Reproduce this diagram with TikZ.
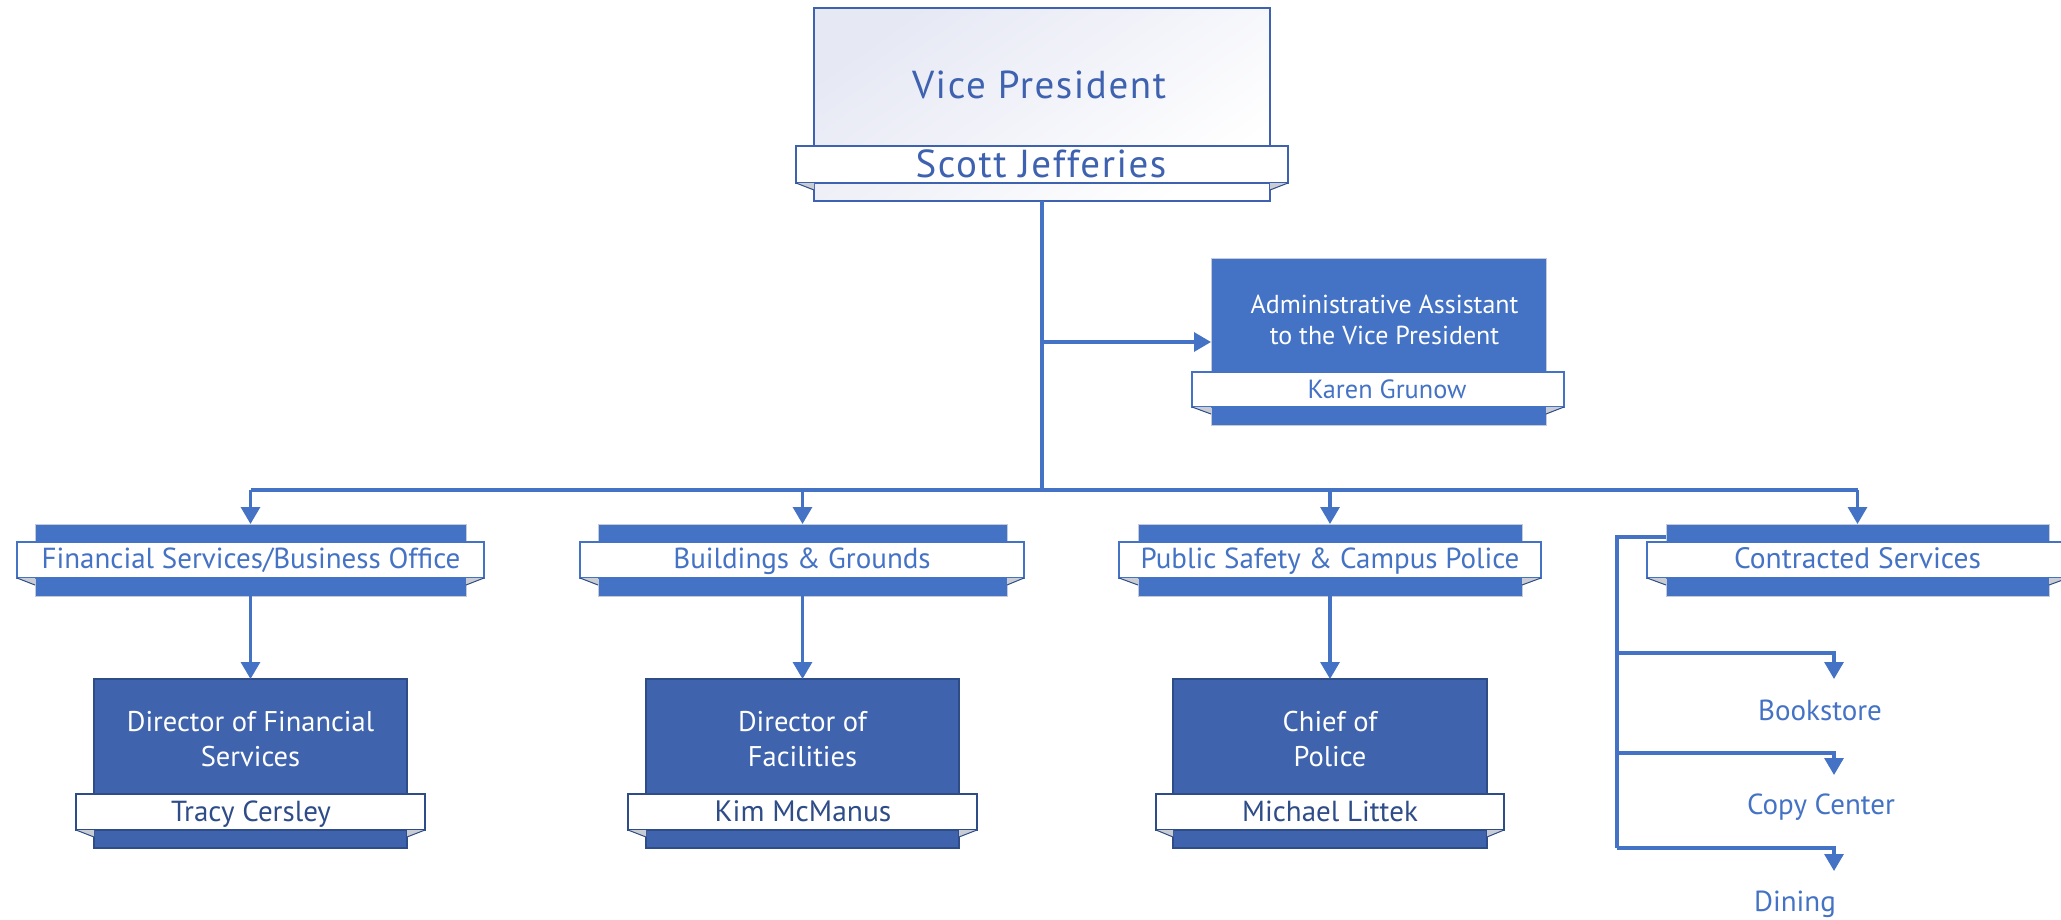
\documentclass[tikz,border=0pt]{standalone}
\usepackage{fontspec}
\setmainfont{PT Sans}
\newfontfamily\vpfont[LetterSpace=4]{PT Sans}
\usetikzlibrary{arrows.meta,calc}
\definecolor{cmid}{HTML}{4472C4}
\definecolor{cdark}{HTML}{3F64AD}
\definecolor{cnavy}{HTML}{2E4C88}
\definecolor{cvp}{HTML}{3E62B0}
\definecolor{cgrey}{HTML}{C4CAD6}
\definecolor{ctab}{HTML}{C9CCD2}
\definecolor{cgrad}{HTML}{E6E8F4}
\tikzset{
  every node/.style={inner sep=0pt, outer sep=0pt},
  vpbox/.style={draw=cvp, line width=2pt, top color=cgrad, bottom color=white, shading angle=35},
  vpbanner/.style={draw=cvp, line width=2pt, fill=white},
  midbox/.style={draw=cgrey, line width=1pt, fill=cmid},
  midbanner/.style={draw=cmid, line width=1.2pt, fill=white},
  darkbox/.style={draw=cnavy, line width=1.5pt, fill=cdark},
  darkbanner/.style={draw=cnavy, line width=2pt, fill=white},
  conn/.style={draw=cmid, line width=3.2pt},
  arr/.style={conn, -{Triangle[width=19pt,length=17pt]}},
  wtext/.style={text=white, align=center, anchor=base},
  btext/.style={text=cmid, anchor=base},
  ntext/.style={text=cnavy, anchor=base},
}
% folded tabs under the ends of a banner
\newcommand{\foldtabs}[3]{%
  \fill[ctab] (#1.south west) -- (#1.south west -| #2.west) -- ([yshift=-#3]#1.south west -| #2.west) -- cycle;
  \fill[ctab] (#1.south east) -- (#1.south east -| #2.east) -- ([yshift=-#3]#1.south east -| #2.east) -- cycle;
  \draw[cnavy, line width=1pt] (#1.south west) -- ([yshift=-#3]#1.south west -| #2.west);
  \draw[cnavy, line width=1pt] (#1.south east) -- ([yshift=-#3]#1.south east -| #2.east);
}
\begin{document}
\begin{tikzpicture}[x=1pt, y=-1pt]
\useasboundingbox (0,0) rectangle (2061,919);

% ---------- Vice President ----------
\node[vpbox, minimum width=456pt, minimum height=193pt] (vp) at (1042,104.5) {};
\node[vpbanner, minimum width=492pt, minimum height=37pt] (vpb) at (1042,164.5) {};
\foldtabs{vpb}{vp}{7pt}
\node[text=cvp, anchor=base, font=\vpfont\fontsize{39}{46}\selectfont] (vpt) at (1039,98) {Vice President};
\node[text=cvp, anchor=base, font=\vpfont\fontsize{39}{46}\selectfont] (vpn) at (1041,177) {Scott Jefferies};

% ---------- Administrative Assistant ----------
\node[midbox, minimum width=335pt, minimum height=167pt] (adm) at (1378.5,341.5) {};
\node[midbanner, minimum width=372pt, minimum height=35pt] (admb) at (1378,389.5) {};
\foldtabs{admb}{adm}{7pt}
\node[wtext, font=\fontsize{26}{31}\selectfont] (admt) at (1384.5,344) {Administrative Assistant\\to the Vice President};
\node[btext, font=\fontsize{26.3}{30}\selectfont] (admn) at (1387,398) {Karen Grunow};

% ---------- Level 2 ----------
\node[midbox, minimum width=431pt, minimum height=72pt] (fin) at (250.5,560) {};
\node[midbanner, minimum width=467pt, minimum height=36pt] (finb) at (250.5,560) {};
\foldtabs{finb}{fin}{7pt}
\node[btext, font=\fontsize{29}{34}\selectfont] (fint) at (251,568) {Financial Services/Business Office};

\node[midbox, minimum width=409pt, minimum height=72pt] (bg) at (802.5,560) {};
\node[midbanner, minimum width=444pt, minimum height=36pt] (bgb) at (802,560) {};
\foldtabs{bgb}{bg}{7pt}
\node[btext, font=\fontsize{29}{34}\selectfont] (bgt) at (802,568) {Buildings \& Grounds};

\node[midbox, minimum width=384pt, minimum height=72pt] (ps) at (1330,560) {};
\node[midbanner, minimum width=422pt, minimum height=36pt] (psb) at (1330,560) {};
\foldtabs{psb}{ps}{7pt}
\node[btext, font=\fontsize{29}{34}\selectfont] (pst) at (1330,568) {Public Safety \& Campus Police};

\node[midbox, minimum width=383pt, minimum height=72pt] (con) at (1857.5,560) {};
\node[midbanner, minimum width=421pt, minimum height=36pt] (conb) at (1857.5,560) {};
\foldtabs{conb}{con}{7pt}
\node[btext, font=\fontsize{29.5}{34}\selectfont] (cont) at (1857.5,568) {Contracted Services};

% ---------- Level 3 ----------
\node[darkbox, minimum width=313pt, minimum height=169pt] (dfin) at (250.5,763.5) {};
\node[darkbanner, minimum width=349pt, minimum height=36pt] (dfinb) at (250.5,812) {};
\foldtabs{dfinb}{dfin}{7pt}
\node[wtext, font=\fontsize{28.5}{35}\selectfont] (dfint) at (250.5,766) {Director of Financial\\Services};
\node[ntext, font=\fontsize{29}{33}\selectfont] (dfinn) at (251,821) {Tracy Cersley};

\node[darkbox, minimum width=313pt, minimum height=169pt] (dfac) at (802.5,763.5) {};
\node[darkbanner, minimum width=349pt, minimum height=36pt] (dfacb) at (802.5,812) {};
\foldtabs{dfacb}{dfac}{7pt}
\node[wtext, font=\fontsize{28.5}{35}\selectfont] (dfact) at (802.5,766) {Director of\\Facilities};
\node[ntext, font=\fontsize{29.5}{33}\selectfont] (dfacn) at (803,821) {Kim McManus};

\node[darkbox, minimum width=314pt, minimum height=169pt] (cop) at (1330,763.5) {};
\node[darkbanner, minimum width=348pt, minimum height=36pt] (copb) at (1330,812) {};
\foldtabs{copb}{cop}{7pt}
\node[wtext, font=\fontsize{28.5}{35}\selectfont] (copt) at (1330,766) {Chief of\\Police};
\node[ntext, font=\fontsize{29}{33}\selectfont] (copn) at (1330,821) {Michael Littek};

% ---------- Contracted sub-items ----------
\node[btext, font=\fontsize{29}{33}\selectfont] (book) at (1820,720) {Bookstore};
\node[btext, font=\fontsize{29}{33}\selectfont] (copy) at (1821,814) {Copy Center};
\node[btext, font=\fontsize{29}{33}\selectfont] (din) at (1795,911) {Dining};

% ---------- Connectors ----------
\coordinate (j) at (1042,490);
\coordinate (ja) at (1042,342);
\draw[conn] (vp.south) -- (j);
\draw[arr] (ja) -- (adm.west |- ja);
\draw[conn] (fin.north |- j) -- (con.north |- j);
\draw[arr] (fin.north |- j) -- (fin.north);
\draw[arr] (bg.north |- j) -- (bg.north);
\draw[arr] (ps.north |- j) -- (ps.north);
\draw[arr] (con.north |- j) -- (con.north);
\draw[arr] (fin.south) -- (dfin.north);
\draw[arr] (bg.south) -- (dfac.north);
\draw[arr] (ps.south) -- (cop.north);

\coordinate (cs) at (1617,537);
\coordinate (ce) at (1617,848);
\coordinate (b1) at (1617,653);
\coordinate (b2) at (1617,753);
\coordinate (t1) at (1834,679);
\coordinate (t2) at (1834,775);
\coordinate (t3) at (1834,871);
\draw[conn] (con.west |- cs) -- (cs) -- (ce);
\draw[arr] (b1) -| (t1);
\draw[arr] (b2) -| (t2);
\draw[arr] (ce) -| (t3);
\end{tikzpicture}
\end{document}
